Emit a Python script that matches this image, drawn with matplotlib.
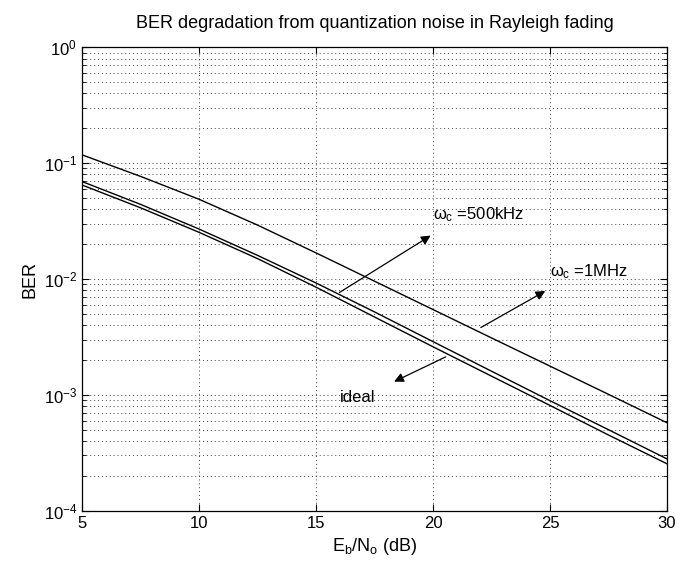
import numpy as np
import matplotlib
matplotlib.use('Agg')
import matplotlib.pyplot as plt
from matplotlib.ticker import LogLocator, LogFormatterMathtext, NullFormatter

plt.rcParams['font.family'] = ['Liberation Sans', 'DejaVu Sans']
plt.rcParams['mathtext.fontset'] = 'custom'
plt.rcParams['mathtext.rm'] = 'Liberation Sans'
plt.rcParams['mathtext.it'] = 'Liberation Sans'

# Eb/No (dB) and BER values
ebno = [5, 7.5, 10, 12.5, 15, 17.5, 20, 22.5, 25, 27.5, 30]
ber_500k = [0.118, 0.0769, 0.0488, 0.0292, 0.0168, 0.00957, 0.00545, 0.0031, 0.00177, 0.00101, 0.000574]
ber_1m = [0.0694, 0.0441, 0.0270, 0.0160, 0.00924, 0.0052, 0.00288, 0.0016, 0.00089, 0.00050, 0.00028]
ber_ideal = [0.0648, 0.0412, 0.0253, 0.0150, 0.0085, 0.0047, 0.0026, 0.00145, 0.00081, 0.00045, 0.000254]

fig = plt.figure(figsize=(6.91, 5.66), dpi=100)
ax = fig.add_axes([0.1187, 0.0977, 0.8466, 0.8187])

for b in [ber_500k, ber_1m, ber_ideal]:
    ax.semilogy(ebno, b, color='black', lw=1.0)

ax.set_xlim(5, 30)
ax.set_ylim(1e-4, 1)
ax.set_xticks([5, 10, 15, 20, 25, 30])
ax.yaxis.set_major_locator(LogLocator(base=10, numticks=10))
ax.yaxis.set_minor_locator(LogLocator(base=10, subs=np.arange(2, 10), numticks=20))
ax.yaxis.set_major_formatter(LogFormatterMathtext())
ax.yaxis.set_minor_formatter(NullFormatter())

grid_style = dict(ls=(0, (1, 3)), color='#444444', lw=0.7)
ax.grid(True, which='major', axis='both', **grid_style)
ax.grid(True, which='minor', axis='y', **grid_style)

ax.tick_params(which='both', direction='in', top=True, right=True, labelsize=12)
ax.tick_params(which='major', length=5)
ax.tick_params(which='minor', length=3)
for s in ax.spines.values():
    s.set_linewidth(0.9)

ax.set_title('BER degradation from quantization noise in Rayleigh fading', fontsize=13, pad=14)
ax.set_xlabel(r'E$_\mathrm{b}$/N$_\mathrm{o}$ (dB)', fontsize=13)
ax.set_ylabel('BER', fontsize=13)

arr = dict(arrowstyle='-|>', color='black', lw=0.9, mutation_scale=14)
ax.annotate('', xy=(20.0, 0.0244), xytext=(15.9, 0.00743), arrowprops=arr)
ax.text(20.0, 0.0357, r'$\omega_\mathrm{c}$ =500kHz', fontsize=12, va='center', ha='left')

ax.annotate('', xy=(24.9, 0.00809), xytext=(21.94, 0.00371), arrowprops=arr)
ax.text(25.0, 0.0116, r'$\omega_\mathrm{c}$ =1MHz', fontsize=12, va='center', ha='left')

ax.annotate('', xy=(18.23, 0.00127), xytext=(20.65, 0.00218), arrowprops=arr)
ax.text(16.0, 0.00095, 'ideal', fontsize=12, va='center', ha='left')

fig.savefig('out.png', dpi=100)
